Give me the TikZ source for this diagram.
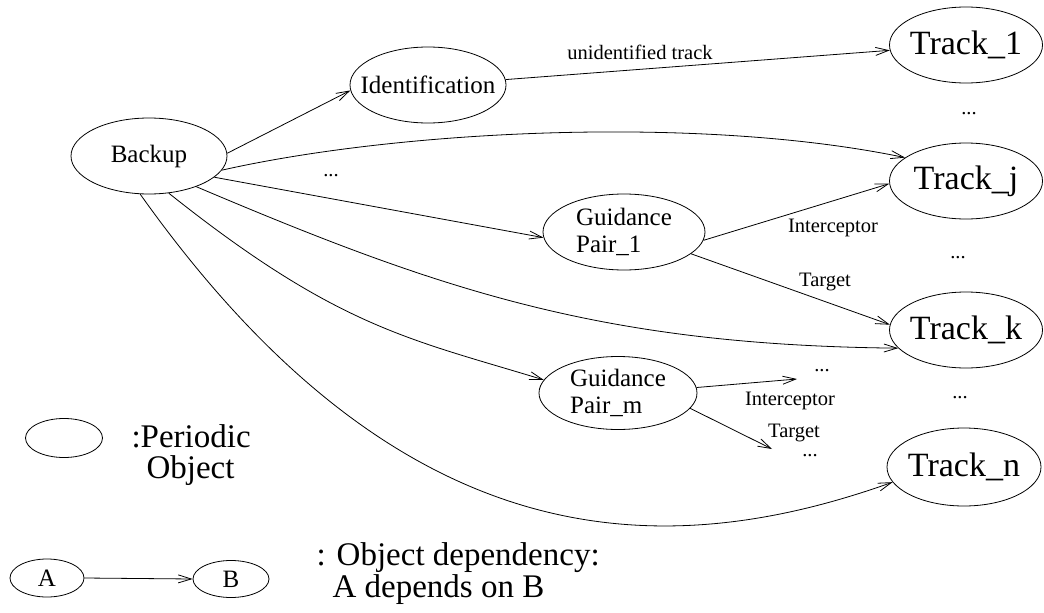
\documentclass[tikz,border=0pt]{standalone}
\usepackage{fontspec}
\setmainfont{Liberation Serif}
\usetikzlibrary{shapes.geometric,arrows.meta}
\begin{document}
\begin{tikzpicture}[x=1pt,y=-1pt,
  obj/.style={draw, ellipse, line width=0.8pt, inner sep=0pt},
  dep/.style={draw, line width=0.8pt, -{Straight Barb[length=13pt,width=8pt]}},
  big/.style={font=\fontsize{34}{34}\selectfont},
  mid/.style={font=\fontsize{25}{27}\selectfont},
  sml/.style={font=\fontsize{20.5}{22}\selectfont},
  leg/.style={font=\fontsize{33}{31}\selectfont},
]
\useasboundingbox (0,0) rectangle (1044,613);

% objects
\node[obj, minimum width=156pt, minimum height=76pt, label={[mid]center:Backup}] (backup) at (149,156) {};
\node[obj, minimum width=156pt, minimum height=76pt, label={[mid]center:Identification}] (ident) at (428,85) {};
\node[obj, minimum width=153pt, minimum height=76pt, label={[big]center:Track\_1}] (t1) at (966,45) {};
\node[obj, minimum width=153pt, minimum height=76pt, label={[big]center:Track\_j}] (tj) at (966,181) {};
\node[obj, minimum width=153pt, minimum height=76pt, label={[big]center:Track\_k}] (tk) at (966,330) {};
\node[obj, minimum width=154pt, minimum height=78pt, label={[big]center:Track\_n}] (tn) at (964,467) {};
\node[obj, minimum width=162pt, minimum height=76pt, label={[mid,align=left]center:{Guidance\\Pair\_1}}] (p1) at (624,232) {};
\node[obj, minimum width=158pt, minimum height=73pt, label={[mid,align=left]center:{Guidance\\Pair\_m}}] (pm) at (618,393) {};

% free ends
\coordinate (pmi) at (797,379);
\coordinate (pmt) at (772,449);

% labels
\node[sml] (unid) at (640,52) {unidentified track};
\node[sml] (dots0) at (331,176) {...};
\node[sml] (dots1) at (969,114) {...};
\node[sml] (dots2) at (958,258) {...};
\node[sml] (dots3) at (960,398) {...};
\node[sml] (dots4) at (822,371) {...};
\node[sml] (dots5) at (810,456) {...};
\node[sml] (int1) at (833,228) {Interceptor};
\node[sml] (tar1) at (825,282) {Target};
\node[sml] (int2) at (790,401) {Interceptor};
\node[sml] (tar2) at (794,433) {Target};

% connectors
\draw[dep] (backup.2) -- (ident.184);
\draw[dep] (ident.4) -- (t1.184);
\draw[dep] (backup.-11) .. controls (400,130) and (700,115) .. (tj.159);
\draw[dep] (backup.-18) -- (p1.184);
\draw[dep] (backup.-33) .. controls (440,290) and (600,345) .. (tk.195);
\draw[dep] (backup.-62) .. controls (338,328) and (410,339) .. (pm.170);
\draw[dep] (backup.-103) .. controls (400,560) and (660,565) .. (tn.192);
\draw[dep] (p1.-6) -- (tj.182);
\draw[dep] (p1.-18) -- (tk.176);
\draw[dep] (pm.4) -- (pmi);
\draw[dep] (pm.-12) -- (pmt);

% legend
\node[obj, minimum width=77pt, minimum height=39pt] (legobj) at (64,438) {};
\node[leg, anchor=base west] (leg1) at (128,447) {:Periodic};
\node[leg, anchor=base west] (leg2) at (143,478) {Object};
\node[obj, minimum width=74pt, minimum height=38pt, label={[mid]center:A}] (A) at (47,578) {};
\node[obj, minimum width=76pt, minimum height=37pt, label={[mid]center:B}] (B) at (231,579) {};
\draw[dep] (A.east) -- (B.west);
\node[leg, anchor=base west] (dep1) at (313,565) {: Object dependency:};
\node[leg, anchor=base west] (dep2) at (329,597) {A depends on B};
\end{tikzpicture}
\end{document}
